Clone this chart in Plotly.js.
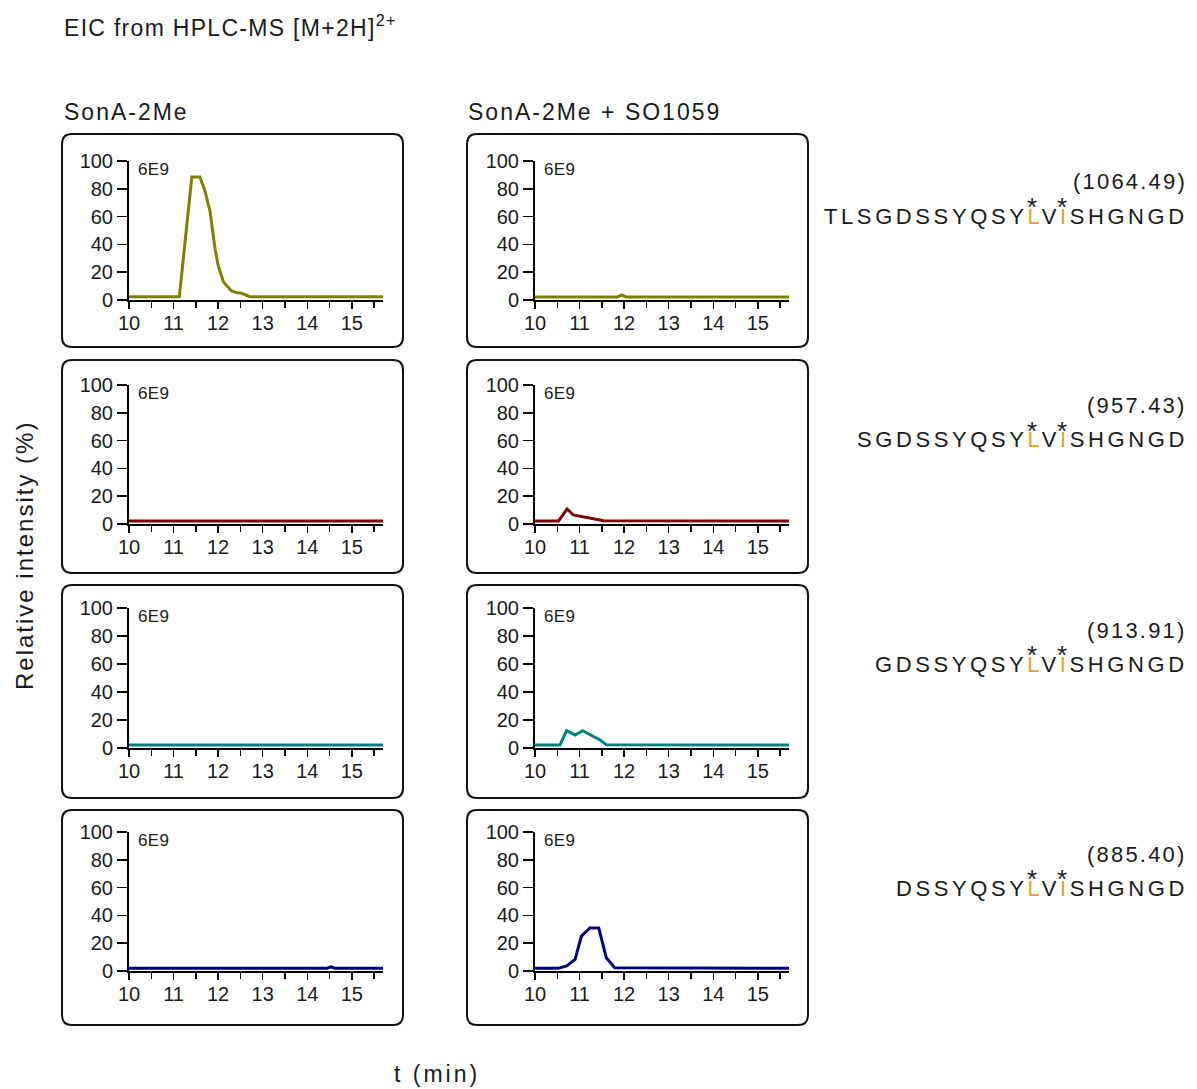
<!DOCTYPE html>
<html><head><meta charset="utf-8">
<script src="https://cdn.plot.ly/plotly-3.0.1.min.js"></script>
<style>html,body{margin:0;padding:0;background:#fff}</style>
</head><body>
<div id="chart" style="width:1197px;height:1089px"></div>
<script>
// ---------------- data ----------------
const timeTicks = [10, 11, 12, 13, 14, 15];
const timeMinorStep = 0.5;
const timeRange = [10, 15.7];
const intensityTicks = [0, 20, 40, 60, 80, 100];
const chartTitle = 'EIC from HPLC-MS [M+2H]<sup>2+</sup>';
const columnTitles = ['SonA-2Me', 'SonA-2Me + SO1059'];
const massLabels = ['(1064.49)', '(957.43)', '(913.91)', '(885.40)'];
const peptidePrefixes = ['TLSGDSSYQSY', 'SGDSSYQSY', 'GDSSYQSY', 'DSSYQSY'];
const peptideMarked1 = 'L';
const peptideMiddle = 'V';
const peptideMarked2 = 'I';
const peptideSuffix = 'SHGNGD';
const scaleLabel = '6E9';
const yAxisLabel = 'Relative intensity (%)';
const xAxisLabel = 't (min)';
const traceColors = ['#808000', '#800000', '#008080', '#000080'];

// SonA-2Me (left column)
const t_1064_a = [10, 11.13, 11.41, 11.59, 11.70, 11.82, 11.93, 12.0, 12.12, 12.30, 12.41, 12.53, 12.71, 15.7];
const i_1064_a = [2.4, 2.4, 88.5, 88.5, 79, 63.5, 37, 25, 13, 6.5, 5.3, 4.8, 2.4, 2.4];
const t_957_a = [10, 15.7];
const i_957_a = [2.2, 2.2];
const t_913_a = [10, 15.7];
const i_913_a = [2.2, 2.2];
const t_885_a = [10, 14.45, 14.53, 14.62, 15.7];
const i_885_a = [2, 2, 3, 2, 2];

// SonA-2Me + SO1059 (right column)
const t_1064_b = [10, 11.85, 11.95, 12.05, 15.7];
const i_1064_b = [2.2, 2.2, 3.6, 2.2, 2.2];
const t_957_b = [10, 10.53, 10.72, 10.86, 11.54, 15.7];
const i_957_b = [2.2, 2.2, 10.8, 6.5, 2.4, 2.2];
const t_913_b = [10, 10.56, 10.71, 10.9, 11.07, 11.28, 11.46, 11.6, 15.7];
const i_913_b = [2.1, 2.1, 12.4, 9.3, 12.4, 8.6, 5.7, 2.4, 2.1];
const t_885_b = [10, 10.52, 10.71, 10.9, 11.04, 11.23, 11.43, 11.6, 11.79, 15.7];
const i_885_b = [1.9, 1.9, 3.6, 8.3, 25, 31, 31, 9.5, 2.4, 1.9];

const panelTimes = [[t_1064_a, t_1064_b], [t_957_a, t_957_b], [t_913_a, t_913_b], [t_885_a, t_885_b]];
const panelIntensities = [[i_1064_a, i_1064_b], [i_957_a, i_957_b], [i_913_a, i_913_b], [i_885_a, i_885_b]];

// ---------------- geometry (pixels) ----------------
const W = 1197, H = 1089;
const X = p => p / W;
const Y = p => 1 - p / H;
const colPlotX = [[129, 383], [535, 789]];
const rowPlotY = [[161, 300], [385, 524], [608, 748], [832, 971]]; // [top(100), bottom(0)]
const colBoxX = [[62, 403], [467, 808]];
const rowBoxY = [[134, 347], [360, 573], [585, 798], [810, 1025]];
const rightEdge = 1187;
const massY = [182, 406, 630, 854];
const pepY = [216, 440, 664, 888];

const FONT = 'Liberation Sans, Arial, sans-serif';
const TXT = '#1a1a1a';
const ORANGE = '#F39A1E';

function rr(x0, y0, x1, y1, r) {
  return `M${X(x0 + r)},${Y(y0)} L${X(x1 - r)},${Y(y0)} Q${X(x1)},${Y(y0)} ${X(x1)},${Y(y0 + r)} ` +
    `L${X(x1)},${Y(y1 - r)} Q${X(x1)},${Y(y1)} ${X(x1 - r)},${Y(y1)} L${X(x0 + r)},${Y(y1)} ` +
    `Q${X(x0)},${Y(y1)} ${X(x0)},${Y(y1 - r)} L${X(x0)},${Y(y0 + r)} Q${X(x0)},${Y(y0)} ${X(x0 + r)},${Y(y0)} Z`;
}

const data = [];
const layout = {
  width: W, height: H,
  margin: {l: 0, r: 0, t: 0, b: 0, pad: 0},
  paper_bgcolor: '#fff', plot_bgcolor: 'rgba(0,0,0,0)',
  showlegend: false,
  font: {family: FONT, color: TXT, size: 20},
  shapes: [], annotations: []
};

for (let r = 0; r < 4; r++) {
  for (let c = 0; c < 2; c++) {
    const n = r * 2 + c + 1;
    const xa = n === 1 ? 'x' : 'x' + n;
    const ya = n === 1 ? 'y' : 'y' + n;
    data.push({
      type: 'scatter', mode: 'lines',
      x: panelTimes[r][c], y: panelIntensities[r][c],
      xaxis: xa, yaxis: ya,
      line: {color: traceColors[r], width: 3, shape: 'linear'},
      hoverinfo: 'skip'
    });
    layout['xaxis' + (n === 1 ? '' : n)] = {
      domain: [X(colPlotX[c][0]), X(colPlotX[c][1])],
      anchor: ya, range: timeRange, fixedrange: true,
      showline: true, linecolor: '#000', linewidth: 2,
      showgrid: false, zeroline: false,
      ticks: 'outside', ticklen: 7, tickwidth: 1.5, tickcolor: '#000',
      tickmode: 'array', tickvals: timeTicks, ticklabelstandoff: -3,
      tickfont: {size: 20, color: TXT, family: FONT},
      minor: {dtick: timeMinorStep, tick0: 10, ticks: 'outside', ticklen: 6, tickwidth: 1.5, tickcolor: '#000', showgrid: false}
    };
    layout['yaxis' + (n === 1 ? '' : n)] = {
      domain: [Y(rowPlotY[r][1]), Y(rowPlotY[r][0])],
      anchor: xa, range: [0, 100], fixedrange: true,
      showline: true, linecolor: '#000', linewidth: 2,
      showgrid: false, zeroline: false,
      ticks: 'outside', ticklen: 10, tickwidth: 1.5, tickcolor: '#000',
      tickmode: 'array', tickvals: intensityTicks,
      tickfont: {size: 20, color: TXT, family: FONT}
    };
    layout.shapes.push({
      type: 'path', xref: 'paper', yref: 'paper', layer: 'below',
      path: rr(colBoxX[c][0], rowBoxY[r][0], colBoxX[c][1], rowBoxY[r][1], 10),
      line: {color: '#111', width: 2}, fillcolor: 'rgba(0,0,0,0)'
    });
    layout.annotations.push({
      xref: 'paper', yref: 'paper', x: X(colPlotX[c][0] + 7), y: Y(rowPlotY[r][0] + 8),
      xanchor: 'left', yanchor: 'middle', showarrow: false,
      text: `<span style="letter-spacing:0.3px">${scaleLabel}</span>`,
      font: {size: 17, color: TXT, family: FONT}
    });
  }
}

function ann(text, px, py, size, ls, xanchor, extra) {
  return Object.assign({
    xref: 'paper', yref: 'paper', x: X(px), y: Y(py), xanchor: xanchor, yanchor: 'middle',
    showarrow: false, text: `<span style="letter-spacing:${ls}px">${text}</span>`,
    font: {size: size, color: TXT, family: FONT}
  }, extra || {});
}

layout.annotations.push(ann(chartTitle, 62, 26, 23, 1.3, 'left'));
layout.annotations.push(ann(columnTitles[0], 62, 112, 23, 2, 'left'));
layout.annotations.push(ann(columnTitles[1], 466, 112, 23, 2, 'left'));
layout.annotations.push(ann(yAxisLabel, 24, 556, 24, 2, 'center', {textangle: -90}));
layout.annotations.push(ann(xAxisLabel, 437, 1074, 23, 3, 'center'));

// peptide labels with marked residues
const canvas = document.createElement('canvas');
const ctx = canvas.getContext('2d');
const PEP_SIZE = 22, PEP_LS = 3.6;
ctx.font = `${PEP_SIZE}px "Liberation Sans"`;
const tw = s => ctx.measureText(s).width + s.length * PEP_LS;

for (let r = 0; r < 4; r++) {
  layout.annotations.push(ann(massLabels[r], rightEdge + 2.2, massY[r], 22, 2.2, 'right'));
  const full = peptidePrefixes[r] + peptideMarked1 + peptideMiddle + peptideMarked2 + peptideSuffix;
  const start = rightEdge - 4 - (ctx.measureText(full).width + (full.length - 1) * PEP_LS);
  const sp = s => `<span style="letter-spacing:${PEP_LS}px">${s}</span>`;
  const so = s => `<span style="letter-spacing:${PEP_LS}px;color:${ORANGE}">${s}</span>`;
  layout.annotations.push({
    xref: 'paper', yref: 'paper', x: X(start - 1), y: Y(pepY[r]), xanchor: 'left', yanchor: 'middle',
    showarrow: false,
    text: sp(peptidePrefixes[r]) + so(peptideMarked1) + sp(peptideMiddle) + so(peptideMarked2) + sp(peptideSuffix),
    font: {size: PEP_SIZE, color: TXT, family: FONT}
  });
  const p1 = start + tw(peptidePrefixes[r]) + ctx.measureText(peptideMarked1).width / 2;
  const p2 = start + tw(peptidePrefixes[r] + peptideMarked1 + peptideMiddle) + ctx.measureText(peptideMarked2).width / 2;
  [p1, p2].forEach(px => layout.annotations.push({
    xref: 'paper', yref: 'paper', x: X(px), y: Y(pepY[r] - 9), xanchor: 'center', yanchor: 'middle',
    showarrow: false, text: '*', font: {size: 26, color: TXT, family: FONT}
  }));
}

Plotly.newPlot('chart', data, layout, {staticPlot: true, displayModeBar: false});
</script>
</body></html>
